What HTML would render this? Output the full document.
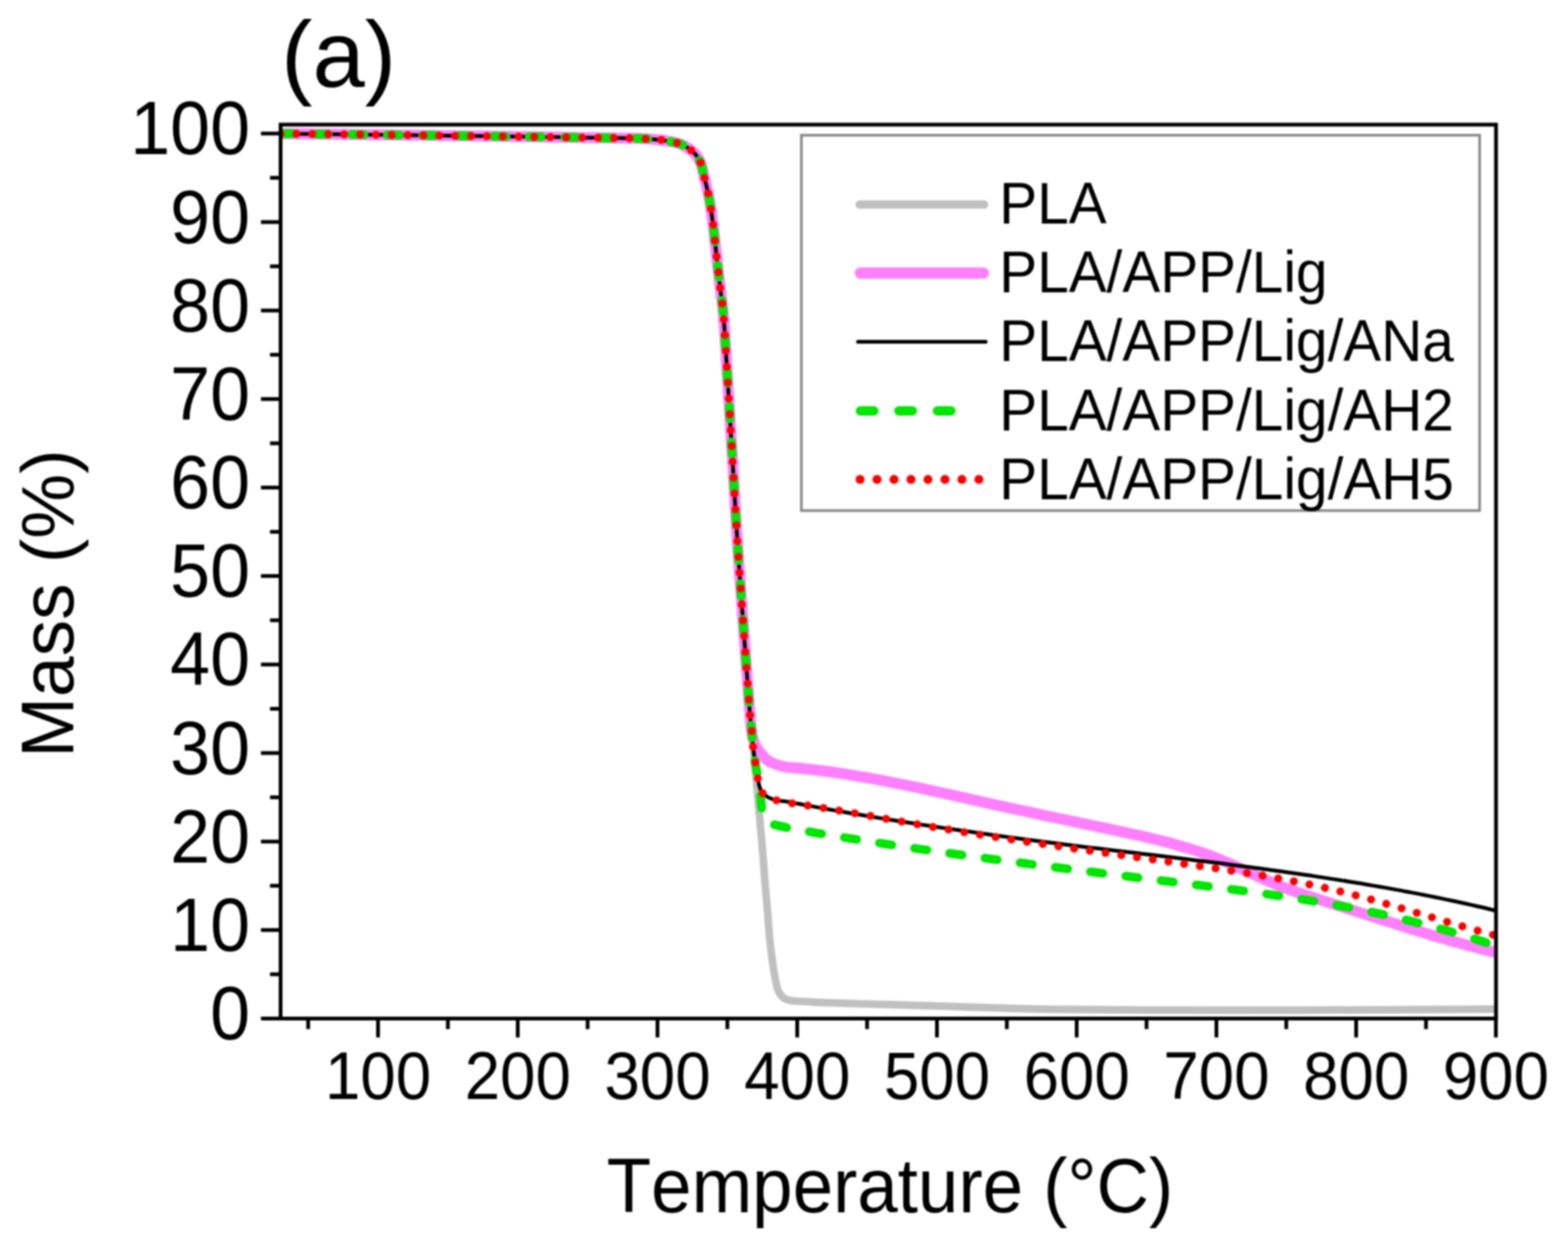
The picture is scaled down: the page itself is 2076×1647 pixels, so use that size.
<!DOCTYPE html>
<html><head><meta charset="utf-8"><title>TGA curves</title>
<style>html,body{margin:0;padding:0;background:#fff;overflow:hidden}svg{display:block}#w{filter:blur(1px)}text{font-family:"Liberation Sans",Arial,sans-serif;fill:#000;font-kerning:none}</style></head><body><div id="w">
<svg width="2076" height="1647" viewBox="0 0 2076 1647">
<rect width="2076" height="1647" fill="#fff"/>
<defs><clipPath id="pc"><rect x="371.5" y="165.0" width="1609.2" height="1183.5"/></clipPath></defs>
<g clip-path="url(#pc)" fill="none" stroke-linejoin="round">
<path d="M371.5,176.9 C392.9,177.2 461.9,177.9 500.0,178.4 C538.1,178.9 566.7,179.2 600.0,179.7 C633.3,180.1 666.7,180.6 700.0,181.1 C733.3,181.6 776.7,182.2 800.0,182.5 C823.3,182.8 828.1,182.7 840.0,183.1 C851.9,183.5 864.0,184.3 871.3,184.9 C878.6,185.5 878.6,185.8 883.7,186.8 C888.8,187.8 896.1,188.6 901.9,191.1 C907.7,193.6 914.5,198.1 918.7,202.1 C923.0,206.1 925.1,209.7 927.4,215.2 C929.7,220.7 930.7,227.5 932.5,235.0 C934.3,242.5 936.5,250.0 938.4,260.0 C940.3,270.0 942.0,280.9 943.8,295.0 C945.6,309.1 947.6,329.5 949.3,344.5 C951.0,359.5 952.5,372.4 954.0,385.0 C955.5,397.6 956.6,401.1 958.1,420.3 C959.6,439.5 961.3,470.1 963.2,500.0 C965.1,530.0 967.1,563.3 969.3,600.0 C971.5,636.7 973.9,680.1 976.5,720.0 C979.1,759.9 982.3,802.8 985.0,839.5 C987.7,876.2 990.8,919.1 992.5,940.0 C994.2,960.9 994.2,956.7 995.0,965.0 C995.8,973.3 996.5,979.2 997.5,990.0 C998.5,1000.8 999.7,1015.0 1001.0,1030.0 C1002.3,1045.0 1004.1,1064.2 1005.5,1080.0 C1006.9,1095.8 1008.2,1110.0 1009.5,1125.0 C1010.8,1140.0 1012.0,1157.5 1013.0,1170.0 C1014.0,1182.5 1014.5,1187.2 1015.6,1200.0 C1016.7,1212.8 1018.0,1233.1 1019.5,1247.0 C1021.0,1260.9 1022.8,1273.8 1024.3,1283.6 C1025.8,1293.4 1027.1,1300.4 1028.6,1306.0 C1030.1,1311.6 1030.9,1314.0 1033.5,1317.0 C1036.1,1320.0 1036.8,1322.5 1044.1,1324.1 C1051.3,1325.7 1061.0,1325.9 1077.0,1326.7 C1093.0,1327.5 1109.8,1327.9 1140.4,1328.9 C1171.0,1329.9 1220.7,1331.3 1260.8,1332.5 C1300.9,1333.7 1338.1,1335.3 1381.3,1336.1 C1424.5,1336.9 1466.9,1337.1 1520.0,1337.3 C1573.1,1337.5 1623.2,1337.7 1700.0,1337.5 C1776.8,1337.3 1933.9,1336.2 1980.7,1336.0" stroke="#c0c0c0" stroke-width="10" stroke-linecap="round"/>
<path d="M371.5,176.9 C392.9,177.2 461.9,177.9 500.0,178.4 C538.1,178.9 566.7,179.2 600.0,179.7 C633.3,180.1 666.7,180.6 700.0,181.1 C733.3,181.6 776.7,182.2 800.0,182.5 C823.3,182.8 828.1,182.7 840.0,183.1 C851.9,183.5 864.0,184.3 871.3,184.9 C878.6,185.5 878.6,185.8 883.7,186.8 C888.8,187.8 896.1,188.6 901.9,191.1 C907.7,193.6 914.5,198.1 918.7,202.1 C923.0,206.1 925.1,209.7 927.4,215.2 C929.7,220.7 930.7,227.5 932.5,235.0 C934.3,242.5 936.5,250.0 938.4,260.0 C940.3,270.0 942.0,280.9 943.8,295.0 C945.6,309.1 947.6,329.5 949.3,344.5 C951.0,359.5 952.5,372.4 954.0,385.0 C955.5,397.6 956.6,401.1 958.1,420.3 C959.6,439.5 961.3,470.1 963.2,500.0 C965.1,530.0 967.1,563.3 969.3,600.0 C971.5,636.7 973.9,680.1 976.5,720.0 C979.1,759.9 982.3,802.8 985.0,839.5 C987.7,876.2 990.8,918.6 992.5,940.0 C994.2,961.4 994.0,960.8 995.0,968.0 C996.0,975.2 997.2,979.1 998.5,983.0 C999.8,986.9 1001.4,989.0 1003.0,991.5 C1004.6,994.0 1006.4,996.0 1008.0,998.0 C1009.6,1000.0 1010.8,1001.9 1012.5,1003.5 C1014.2,1005.1 1016.0,1006.5 1018.0,1007.8 C1020.0,1009.0 1020.9,1009.7 1024.6,1011.0 C1028.3,1012.3 1034.7,1014.4 1040.0,1015.4 C1045.3,1016.3 1050.8,1016.3 1056.2,1016.8 C1061.6,1017.3 1067.0,1017.9 1072.4,1018.5 C1077.8,1019.1 1083.3,1019.8 1088.7,1020.5 C1094.1,1021.2 1099.5,1021.9 1104.9,1022.7 C1110.3,1023.5 1115.7,1024.3 1121.1,1025.1 C1126.5,1026.0 1131.9,1026.9 1137.3,1027.8 C1142.7,1028.7 1148.1,1029.7 1153.5,1030.6 C1158.9,1031.6 1164.3,1032.6 1169.8,1033.7 C1175.2,1034.7 1180.6,1035.8 1186.0,1036.8 C1191.4,1037.9 1196.8,1039.0 1202.2,1040.1 C1207.6,1041.3 1213.0,1042.4 1218.4,1043.5 C1223.8,1044.7 1229.2,1045.9 1234.6,1047.0 C1240.0,1048.2 1245.4,1049.4 1250.8,1050.6 C1256.3,1051.8 1261.7,1053.0 1267.1,1054.2 C1272.5,1055.4 1277.9,1056.6 1283.3,1057.8 C1288.7,1059.0 1294.1,1060.3 1299.5,1061.5 C1304.9,1062.7 1310.3,1063.9 1315.7,1065.1 C1321.1,1066.3 1326.5,1067.5 1331.9,1068.7 C1337.3,1069.9 1342.8,1071.0 1348.2,1072.2 C1353.6,1073.4 1359.0,1074.5 1364.4,1075.7 C1369.8,1076.8 1375.2,1078.0 1380.6,1079.1 C1386.0,1080.3 1391.4,1081.4 1396.8,1082.5 C1402.2,1083.7 1407.6,1084.8 1413.0,1085.9 C1418.4,1087.1 1423.8,1088.2 1429.3,1089.3 C1434.7,1090.5 1440.1,1091.6 1445.5,1092.8 C1450.9,1093.9 1456.3,1095.0 1461.7,1096.2 C1467.1,1097.3 1472.5,1098.5 1477.9,1099.6 C1483.3,1100.8 1488.7,1102.0 1494.1,1103.2 C1499.5,1104.3 1504.9,1105.5 1510.3,1106.7 C1515.8,1108.0 1521.2,1109.2 1526.6,1110.5 C1532.0,1111.8 1537.4,1113.1 1542.8,1114.5 C1548.2,1115.9 1553.6,1117.4 1559.0,1118.9 C1564.4,1120.4 1569.8,1122.0 1575.2,1123.7 C1580.6,1125.4 1586.0,1127.2 1591.4,1129.0 C1596.9,1130.9 1602.3,1132.8 1607.7,1134.9 C1613.1,1137.0 1618.5,1139.2 1623.9,1141.5 C1629.3,1143.8 1634.7,1146.3 1640.1,1148.7 C1645.5,1151.2 1650.9,1153.8 1656.3,1156.3 C1661.7,1158.8 1667.1,1161.3 1672.5,1163.7 C1677.9,1166.1 1683.4,1168.5 1688.8,1170.7 C1694.2,1173.0 1699.6,1175.0 1705.0,1177.0 C1710.4,1179.0 1715.8,1180.9 1721.2,1182.7 C1726.6,1184.5 1732.0,1186.3 1737.4,1188.0 C1742.8,1189.8 1748.2,1191.4 1753.6,1193.2 C1759.0,1194.9 1764.4,1196.6 1769.9,1198.3 C1775.3,1200.1 1780.7,1201.8 1786.1,1203.6 C1791.5,1205.3 1796.9,1207.1 1802.3,1208.8 C1807.7,1210.5 1813.1,1212.3 1818.5,1214.0 C1823.9,1215.8 1829.3,1217.5 1834.7,1219.2 C1840.1,1221.0 1845.5,1222.7 1850.9,1224.4 C1856.4,1226.1 1861.8,1227.8 1867.2,1229.5 C1872.6,1231.1 1878.0,1232.8 1883.4,1234.4 C1888.8,1236.1 1894.2,1237.7 1899.6,1239.3 C1905.0,1240.9 1910.4,1242.5 1915.8,1244.0 C1921.2,1245.6 1926.6,1247.1 1932.0,1248.6 C1937.4,1250.1 1942.9,1251.6 1948.3,1253.0 C1953.7,1254.4 1959.1,1255.8 1964.5,1257.1 C1969.9,1258.5 1978.0,1260.4 1980.7,1261.1" stroke="#ff80ff" stroke-width="14.5" stroke-linecap="round"/>
<path d="M371.5,176.9 C392.9,177.2 461.9,177.9 500.0,178.4 C538.1,178.9 566.7,179.2 600.0,179.7 C633.3,180.1 666.7,180.6 700.0,181.1 C733.3,181.6 776.7,182.2 800.0,182.5 C823.3,182.8 828.1,182.7 840.0,183.1 C851.9,183.5 864.0,184.3 871.3,184.9 C878.6,185.5 878.6,185.8 883.7,186.8 C888.8,187.8 896.1,188.6 901.9,191.1 C907.7,193.6 914.5,198.1 918.7,202.1 C923.0,206.1 925.1,209.7 927.4,215.2 C929.7,220.7 930.7,227.5 932.5,235.0 C934.3,242.5 936.5,250.0 938.4,260.0 C940.3,270.0 942.0,280.9 943.8,295.0 C945.6,309.1 947.6,329.5 949.3,344.5 C951.0,359.5 952.5,372.4 954.0,385.0 C955.5,397.6 956.6,401.1 958.1,420.3 C959.6,439.5 961.3,470.1 963.2,500.0 C965.1,530.0 967.1,563.3 969.3,600.0 C971.5,636.7 973.9,680.1 976.5,720.0 C979.1,759.9 982.3,802.8 985.0,839.5 C987.7,876.2 990.8,919.1 992.5,940.0 C994.2,960.9 994.2,956.9 995.0,965.0 C995.8,973.1 996.2,981.1 997.0,988.6 C997.8,996.1 999.0,1003.4 1000.0,1010.0 C1001.0,1016.6 1002.1,1023.0 1003.0,1028.0 C1003.9,1033.0 1004.3,1036.6 1005.2,1040.0 C1006.1,1043.4 1007.0,1046.2 1008.5,1048.5 C1010.0,1050.8 1012.1,1052.1 1014.0,1053.5 C1015.9,1054.9 1017.3,1055.9 1020.0,1057.0 C1022.7,1058.1 1026.7,1059.3 1030.0,1060.0 C1033.3,1060.7 1035.6,1060.3 1040.0,1061.0 C1044.4,1061.6 1050.8,1063.0 1056.2,1064.0 C1061.6,1065.1 1067.0,1066.1 1072.4,1067.1 C1077.8,1068.0 1083.3,1069.0 1088.7,1070.0 C1094.1,1071.0 1099.5,1071.9 1104.9,1072.9 C1110.3,1073.8 1115.7,1074.8 1121.1,1075.7 C1126.5,1076.7 1131.9,1077.6 1137.3,1078.5 C1142.7,1079.4 1148.1,1080.3 1153.5,1081.2 C1158.9,1082.1 1164.3,1083.0 1169.8,1083.9 C1175.2,1084.8 1180.6,1085.6 1186.0,1086.5 C1191.4,1087.4 1196.8,1088.2 1202.2,1089.0 C1207.6,1089.9 1213.0,1090.7 1218.4,1091.6 C1223.8,1092.4 1229.2,1093.2 1234.6,1094.0 C1240.0,1094.8 1245.4,1095.6 1250.8,1096.4 C1256.3,1097.2 1261.7,1098.0 1267.1,1098.8 C1272.5,1099.6 1277.9,1100.4 1283.3,1101.1 C1288.7,1101.9 1294.1,1102.7 1299.5,1103.4 C1304.9,1104.2 1310.3,1104.9 1315.7,1105.7 C1321.1,1106.4 1326.5,1107.1 1331.9,1107.9 C1337.3,1108.6 1342.8,1109.3 1348.2,1110.0 C1353.6,1110.8 1359.0,1111.5 1364.4,1112.2 C1369.8,1112.9 1375.2,1113.6 1380.6,1114.3 C1386.0,1115.0 1391.4,1115.7 1396.8,1116.3 C1402.2,1117.0 1407.6,1117.7 1413.0,1118.4 C1418.4,1119.0 1423.8,1119.7 1429.3,1120.4 C1434.7,1121.1 1440.1,1121.7 1445.5,1122.4 C1450.9,1123.0 1456.3,1123.7 1461.7,1124.3 C1467.1,1125.0 1472.5,1125.7 1477.9,1126.3 C1483.3,1127.0 1488.7,1127.6 1494.1,1128.3 C1499.5,1128.9 1504.9,1129.5 1510.3,1130.2 C1515.8,1130.8 1521.2,1131.5 1526.6,1132.1 C1532.0,1132.8 1537.4,1133.4 1542.8,1134.1 C1548.2,1134.8 1553.6,1135.4 1559.0,1136.1 C1564.4,1136.7 1569.8,1137.4 1575.2,1138.0 C1580.6,1138.7 1586.0,1139.4 1591.4,1140.0 C1596.9,1140.7 1602.3,1141.4 1607.7,1142.1 C1613.1,1142.7 1618.5,1143.4 1623.9,1144.1 C1629.3,1144.8 1634.7,1145.5 1640.1,1146.2 C1645.5,1146.9 1650.9,1147.6 1656.3,1148.3 C1661.7,1149.0 1667.1,1149.7 1672.5,1150.5 C1677.9,1151.2 1683.4,1151.9 1688.8,1152.7 C1694.2,1153.4 1699.6,1154.2 1705.0,1154.9 C1710.4,1155.7 1715.8,1156.5 1721.2,1157.3 C1726.6,1158.0 1732.0,1158.8 1737.4,1159.6 C1742.8,1160.4 1748.2,1161.2 1753.6,1162.1 C1759.0,1162.9 1764.4,1163.7 1769.9,1164.6 C1775.3,1165.4 1780.7,1166.3 1786.1,1167.2 C1791.5,1168.0 1796.9,1168.9 1802.3,1169.8 C1807.7,1170.7 1813.1,1171.7 1818.5,1172.6 C1823.9,1173.5 1829.3,1174.5 1834.7,1175.4 C1840.1,1176.4 1845.5,1177.4 1850.9,1178.4 C1856.4,1179.3 1861.8,1180.4 1867.2,1181.4 C1872.6,1182.4 1878.0,1183.4 1883.4,1184.5 C1888.8,1185.6 1894.2,1186.6 1899.6,1187.7 C1905.0,1188.8 1910.4,1190.0 1915.8,1191.1 C1921.2,1192.2 1926.6,1193.4 1932.0,1194.5 C1937.4,1195.7 1942.9,1196.9 1948.3,1198.1 C1953.7,1199.3 1959.1,1200.6 1964.5,1201.8 C1969.9,1203.1 1978.0,1205.0 1980.7,1205.7" stroke="#000" stroke-width="5" stroke-linecap="round"/>
<path d="M371.5,176.9 C392.9,177.2 461.9,177.9 500.0,178.4 C538.1,178.9 566.7,179.2 600.0,179.7 C633.3,180.1 666.7,180.6 700.0,181.1 C733.3,181.6 776.7,182.2 800.0,182.5 C823.3,182.8 828.1,182.7 840.0,183.1 C851.9,183.5 864.0,184.3 871.3,184.9 C878.6,185.5 878.6,185.8 883.7,186.8 C888.8,187.8 896.1,188.6 901.9,191.1 C907.7,193.6 914.5,198.1 918.7,202.1 C923.0,206.1 925.1,209.7 927.4,215.2 C929.7,220.7 930.7,227.5 932.5,235.0 C934.3,242.5 936.5,250.0 938.4,260.0 C940.3,270.0 942.0,280.9 943.8,295.0 C945.6,309.1 947.6,329.5 949.3,344.5 C951.0,359.5 952.5,372.4 954.0,385.0 C955.5,397.6 956.6,401.1 958.1,420.3 C959.6,439.5 961.3,470.1 963.2,500.0 C965.1,530.0 967.1,563.3 969.3,600.0 C971.5,636.7 973.9,680.1 976.5,720.0 C979.1,759.9 982.3,802.8 985.0,839.5 C987.7,876.2 990.8,919.1 992.5,940.0 C994.2,960.9 994.2,956.9 995.0,965.0 C995.8,973.1 996.2,981.1 997.0,988.6 C997.8,996.1 998.9,1003.1 1000.0,1010.0 C1001.1,1016.9 1002.4,1023.3 1003.5,1030.0 C1004.6,1036.7 1005.8,1044.2 1006.5,1050.0 C1007.2,1055.8 1007.5,1060.7 1008.0,1065.0 C1008.5,1069.3 1008.8,1072.8 1009.5,1076.0 C1010.2,1079.2 1011.1,1081.8 1012.5,1084.0 C1013.9,1086.2 1016.0,1087.7 1018.0,1089.0 C1020.0,1090.3 1019.1,1090.2 1024.3,1091.6 C1029.5,1093.0 1042.2,1095.8 1049.0,1097.2 C1055.8,1098.6 1059.7,1099.1 1065.1,1100.0 C1070.4,1100.9 1075.8,1101.9 1081.1,1102.8 C1086.5,1103.7 1091.8,1104.6 1097.2,1105.4 C1102.5,1106.3 1107.9,1107.2 1113.3,1108.1 C1118.6,1108.9 1124.0,1109.8 1129.3,1110.6 C1134.7,1111.5 1140.0,1112.3 1145.4,1113.2 C1150.7,1114.0 1156.1,1114.9 1161.4,1115.7 C1166.8,1116.5 1172.2,1117.3 1177.5,1118.1 C1182.9,1118.9 1188.2,1119.7 1193.6,1120.5 C1198.9,1121.3 1204.3,1122.1 1209.6,1122.9 C1215.0,1123.7 1220.3,1124.5 1225.7,1125.2 C1231.1,1126.0 1236.4,1126.8 1241.8,1127.5 C1247.1,1128.3 1252.5,1129.0 1257.8,1129.8 C1263.2,1130.5 1268.5,1131.3 1273.9,1132.0 C1279.2,1132.8 1284.6,1133.5 1290.0,1134.2 C1295.3,1134.9 1300.7,1135.7 1306.0,1136.4 C1311.4,1137.1 1316.7,1137.8 1322.1,1138.5 C1327.4,1139.2 1332.8,1140.0 1338.1,1140.7 C1343.5,1141.4 1348.9,1142.1 1354.2,1142.8 C1359.6,1143.5 1364.9,1144.2 1370.3,1144.8 C1375.6,1145.5 1381.0,1146.2 1386.3,1146.9 C1391.7,1147.6 1397.0,1148.3 1402.4,1149.0 C1407.8,1149.6 1413.1,1150.3 1418.5,1151.0 C1423.8,1151.7 1429.2,1152.3 1434.5,1153.0 C1439.9,1153.7 1445.2,1154.3 1450.6,1155.0 C1455.9,1155.7 1461.3,1156.3 1466.7,1157.0 C1472.0,1157.7 1477.4,1158.3 1482.7,1159.0 C1488.1,1159.7 1493.4,1160.3 1498.8,1161.0 C1504.1,1161.6 1509.5,1162.3 1514.8,1163.0 C1520.2,1163.6 1525.6,1164.3 1530.9,1164.9 C1536.3,1165.6 1541.6,1166.3 1547.0,1166.9 C1552.3,1167.6 1557.7,1168.3 1563.0,1168.9 C1568.4,1169.6 1573.8,1170.2 1579.1,1170.9 C1584.5,1171.6 1589.8,1172.2 1595.2,1172.9 C1600.5,1173.6 1605.9,1174.2 1611.2,1174.9 C1616.6,1175.6 1621.9,1176.3 1627.3,1177.0 C1632.7,1177.7 1638.0,1178.4 1643.4,1179.1 C1648.7,1179.8 1654.1,1180.5 1659.4,1181.2 C1664.8,1181.9 1670.1,1182.7 1675.5,1183.4 C1680.8,1184.2 1686.2,1185.0 1691.6,1185.7 C1696.9,1186.5 1702.3,1187.3 1707.6,1188.1 C1713.0,1188.9 1718.3,1189.8 1723.7,1190.6 C1729.0,1191.5 1734.4,1192.3 1739.7,1193.2 C1745.1,1194.1 1750.5,1195.0 1755.8,1196.0 C1761.2,1196.9 1766.5,1197.8 1771.9,1198.8 C1777.2,1199.8 1782.6,1200.8 1787.9,1201.8 C1793.3,1202.9 1798.6,1203.9 1804.0,1205.0 C1809.4,1206.1 1814.7,1207.2 1820.1,1208.4 C1825.4,1209.5 1830.8,1210.7 1836.1,1211.9 C1841.5,1213.1 1846.8,1214.3 1852.2,1215.6 C1857.5,1216.9 1862.9,1218.2 1868.3,1219.5 C1873.6,1220.8 1879.0,1222.2 1884.3,1223.6 C1889.7,1225.0 1895.0,1226.4 1900.4,1227.8 C1905.7,1229.3 1911.1,1230.8 1916.4,1232.3 C1921.8,1233.8 1927.2,1235.4 1932.5,1237.0 C1937.9,1238.6 1943.2,1240.2 1948.6,1241.9 C1953.9,1243.6 1959.3,1245.3 1964.6,1247.0 C1970.0,1248.8 1978.0,1251.5 1980.7,1252.4" stroke="#00e600" stroke-width="11.5" stroke-linecap="round" stroke-dasharray="16.5 30.5"/>
<path d="M371.5,176.9 C392.9,177.2 461.9,177.9 500.0,178.4 C538.1,178.9 566.7,179.2 600.0,179.7 C633.3,180.1 666.7,180.6 700.0,181.1 C733.3,181.6 776.7,182.2 800.0,182.5 C823.3,182.8 828.1,182.7 840.0,183.1 C851.9,183.5 864.0,184.3 871.3,184.9 C878.6,185.5 878.6,185.8 883.7,186.8 C888.8,187.8 896.1,188.6 901.9,191.1 C907.7,193.6 914.5,198.1 918.7,202.1 C923.0,206.1 925.1,209.7 927.4,215.2 C929.7,220.7 930.7,227.5 932.5,235.0 C934.3,242.5 936.5,250.0 938.4,260.0 C940.3,270.0 942.0,280.9 943.8,295.0 C945.6,309.1 947.6,329.5 949.3,344.5 C951.0,359.5 952.5,372.4 954.0,385.0 C955.5,397.6 956.6,401.1 958.1,420.3 C959.6,439.5 961.3,470.1 963.2,500.0 C965.1,530.0 967.1,563.3 969.3,600.0 C971.5,636.7 973.9,680.1 976.5,720.0 C979.1,759.9 982.3,802.8 985.0,839.5 C987.7,876.2 990.8,919.1 992.5,940.0 C994.2,960.9 994.2,956.9 995.0,965.0 C995.8,973.1 996.2,981.1 997.0,988.6 C997.8,996.1 999.0,1003.4 1000.0,1010.0 C1001.0,1016.6 1002.1,1023.0 1003.0,1028.0 C1003.9,1033.0 1004.3,1036.6 1005.2,1040.0 C1006.1,1043.4 1007.0,1046.2 1008.5,1048.5 C1010.0,1050.8 1012.1,1052.1 1014.0,1053.5 C1015.9,1054.9 1017.3,1055.9 1020.0,1057.0 C1022.7,1058.1 1026.7,1059.1 1030.0,1060.0 C1033.3,1060.9 1035.6,1061.5 1040.0,1062.3 C1044.4,1063.0 1050.8,1063.8 1056.2,1064.5 C1061.6,1065.3 1067.0,1066.1 1072.4,1066.9 C1077.8,1067.8 1083.3,1068.6 1088.7,1069.5 C1094.1,1070.3 1099.5,1071.2 1104.9,1072.1 C1110.3,1073.0 1115.7,1073.9 1121.1,1074.9 C1126.5,1075.8 1131.9,1076.7 1137.3,1077.7 C1142.7,1078.6 1148.1,1079.6 1153.5,1080.5 C1158.9,1081.5 1164.3,1082.5 1169.8,1083.4 C1175.2,1084.4 1180.6,1085.4 1186.0,1086.3 C1191.4,1087.3 1196.8,1088.2 1202.2,1089.2 C1207.6,1090.2 1213.0,1091.1 1218.4,1092.0 C1223.8,1093.0 1229.2,1093.9 1234.6,1094.8 C1240.0,1095.7 1245.4,1096.6 1250.8,1097.5 C1256.3,1098.4 1261.7,1099.3 1267.1,1100.2 C1272.5,1101.1 1277.9,1101.9 1283.3,1102.8 C1288.7,1103.7 1294.1,1104.5 1299.5,1105.4 C1304.9,1106.2 1310.3,1107.0 1315.7,1107.9 C1321.1,1108.7 1326.5,1109.5 1331.9,1110.3 C1337.3,1111.1 1342.8,1112.0 1348.2,1112.8 C1353.6,1113.6 1359.0,1114.4 1364.4,1115.2 C1369.8,1115.9 1375.2,1116.7 1380.6,1117.5 C1386.0,1118.3 1391.4,1119.1 1396.8,1119.9 C1402.2,1120.6 1407.6,1121.4 1413.0,1122.2 C1418.4,1122.9 1423.8,1123.7 1429.3,1124.5 C1434.7,1125.2 1440.1,1126.0 1445.5,1126.7 C1450.9,1127.5 1456.3,1128.2 1461.7,1129.0 C1467.1,1129.7 1472.5,1130.5 1477.9,1131.3 C1483.3,1132.0 1488.7,1132.7 1494.1,1133.5 C1499.5,1134.2 1504.9,1135.0 1510.3,1135.7 C1515.8,1136.5 1521.2,1137.2 1526.6,1138.0 C1532.0,1138.7 1537.4,1139.5 1542.8,1140.2 C1548.2,1141.0 1553.6,1141.8 1559.0,1142.5 C1564.4,1143.3 1569.8,1144.0 1575.2,1144.8 C1580.6,1145.5 1586.0,1146.3 1591.4,1147.1 C1596.9,1147.9 1602.3,1148.6 1607.7,1149.4 C1613.1,1150.2 1618.5,1151.0 1623.9,1151.8 C1629.3,1152.6 1634.7,1153.4 1640.1,1154.3 C1645.5,1155.1 1650.9,1156.0 1656.3,1156.8 C1661.7,1157.7 1667.1,1158.6 1672.5,1159.5 C1677.9,1160.4 1683.4,1161.4 1688.8,1162.3 C1694.2,1163.3 1699.6,1164.3 1705.0,1165.3 C1710.4,1166.3 1715.8,1167.4 1721.2,1168.4 C1726.6,1169.5 1732.0,1170.6 1737.4,1171.8 C1742.8,1172.9 1748.2,1174.1 1753.6,1175.3 C1759.0,1176.6 1764.4,1177.8 1769.9,1179.1 C1775.3,1180.4 1780.7,1181.8 1786.1,1183.1 C1791.5,1184.5 1796.9,1185.9 1802.3,1187.4 C1807.7,1188.8 1813.1,1190.3 1818.5,1191.8 C1823.9,1193.3 1829.3,1194.9 1834.7,1196.4 C1840.1,1198.0 1845.5,1199.6 1850.9,1201.1 C1856.4,1202.7 1861.8,1204.3 1867.2,1205.9 C1872.6,1207.5 1878.0,1209.1 1883.4,1210.8 C1888.8,1212.4 1894.2,1214.0 1899.6,1215.6 C1905.0,1217.2 1910.4,1218.8 1915.8,1220.4 C1921.2,1222.0 1926.6,1223.6 1932.0,1225.2 C1937.4,1226.8 1942.9,1228.4 1948.3,1229.9 C1953.7,1231.4 1959.1,1233.0 1964.5,1234.4 C1969.9,1235.9 1978.0,1238.1 1980.7,1238.8" stroke="#ff0000" stroke-width="10.6" stroke-linecap="round" stroke-dasharray="0.01 21"/>
</g>
<rect x="1061" y="179" width="898" height="497" fill="none" stroke="#858585" stroke-width="3.4"/>
<line x1="1138" y1="270.8" x2="1303" y2="270.8" stroke="#c0c0c0" stroke-width="11" stroke-linecap="round"/>
<line x1="1139" y1="361.5" x2="1302" y2="361.5" stroke="#ff80ff" stroke-width="15" stroke-linecap="round"/>
<line x1="1136" y1="452.5" x2="1305" y2="452.5" stroke="#000" stroke-width="5" stroke-linecap="round"/>
<line x1="1139.3" y1="544.0" x2="1259.3" y2="544.0" stroke="#00e600" stroke-width="12.5" stroke-linecap="round" stroke-dasharray="17.5 33.5"/>
<line x1="1138.7" y1="634.8" x2="1300" y2="634.8" stroke="#ff0000" stroke-width="12" stroke-linecap="round" stroke-dasharray="0.01 22.47"/>
<text x="1323" y="0" font-size="75.2" transform="translate(0 295.7) scale(1 1.026)">PLA</text>
<text x="1323" y="0" font-size="75.2" transform="translate(0 387.0) scale(1 1.026)">PLA/APP/Lig</text>
<text x="1323" y="0" font-size="75.2" transform="translate(0 478.3) scale(1 1.026)">PLA/APP/Lig/ANa</text>
<text x="1323" y="0" font-size="75.2" transform="translate(0 569.6) scale(1 1.026)">PLA/APP/Lig/AH2</text>
<text x="1323" y="0" font-size="75.2" transform="translate(0 660.9) scale(1 1.026)">PLA/APP/Lig/AH5</text>
<g stroke="#000" stroke-width="5" fill="none">
<rect x="371.5" y="165.0" width="1609.2" height="1183.5"/>
<line x1="345.5" y1="1348.5" x2="371.5" y2="1348.5"/>
<line x1="357.5" y1="1289.9" x2="371.5" y2="1289.9"/>
<line x1="345.5" y1="1231.3" x2="371.5" y2="1231.3"/>
<line x1="357.5" y1="1172.7" x2="371.5" y2="1172.7"/>
<line x1="345.5" y1="1114.2" x2="371.5" y2="1114.2"/>
<line x1="357.5" y1="1055.6" x2="371.5" y2="1055.6"/>
<line x1="345.5" y1="997.0" x2="371.5" y2="997.0"/>
<line x1="357.5" y1="938.4" x2="371.5" y2="938.4"/>
<line x1="345.5" y1="879.8" x2="371.5" y2="879.8"/>
<line x1="357.5" y1="821.2" x2="371.5" y2="821.2"/>
<line x1="345.5" y1="762.6" x2="371.5" y2="762.6"/>
<line x1="357.5" y1="704.1" x2="371.5" y2="704.1"/>
<line x1="345.5" y1="645.5" x2="371.5" y2="645.5"/>
<line x1="357.5" y1="586.9" x2="371.5" y2="586.9"/>
<line x1="345.5" y1="528.3" x2="371.5" y2="528.3"/>
<line x1="357.5" y1="469.7" x2="371.5" y2="469.7"/>
<line x1="345.5" y1="411.1" x2="371.5" y2="411.1"/>
<line x1="357.5" y1="352.6" x2="371.5" y2="352.6"/>
<line x1="345.5" y1="294.0" x2="371.5" y2="294.0"/>
<line x1="357.5" y1="235.4" x2="371.5" y2="235.4"/>
<line x1="345.5" y1="176.8" x2="371.5" y2="176.8"/>
<line x1="408.0" y1="1348.5" x2="408.0" y2="1362.5"/>
<line x1="500.5" y1="1348.5" x2="500.5" y2="1373.5"/>
<line x1="593.0" y1="1348.5" x2="593.0" y2="1362.5"/>
<line x1="685.5" y1="1348.5" x2="685.5" y2="1373.5"/>
<line x1="778.0" y1="1348.5" x2="778.0" y2="1362.5"/>
<line x1="870.5" y1="1348.5" x2="870.5" y2="1373.5"/>
<line x1="963.0" y1="1348.5" x2="963.0" y2="1362.5"/>
<line x1="1055.5" y1="1348.5" x2="1055.5" y2="1373.5"/>
<line x1="1148.0" y1="1348.5" x2="1148.0" y2="1362.5"/>
<line x1="1240.5" y1="1348.5" x2="1240.5" y2="1373.5"/>
<line x1="1333.0" y1="1348.5" x2="1333.0" y2="1362.5"/>
<line x1="1425.5" y1="1348.5" x2="1425.5" y2="1373.5"/>
<line x1="1518.0" y1="1348.5" x2="1518.0" y2="1362.5"/>
<line x1="1610.5" y1="1348.5" x2="1610.5" y2="1373.5"/>
<line x1="1703.0" y1="1348.5" x2="1703.0" y2="1362.5"/>
<line x1="1795.5" y1="1348.5" x2="1795.5" y2="1373.5"/>
<line x1="1888.0" y1="1348.5" x2="1888.0" y2="1362.5"/>
<line x1="1980.5" y1="1348.5" x2="1980.5" y2="1373.5"/>
</g>
<text x="331" y="0" font-size="95.0" text-anchor="end" transform="translate(0 1376.1) scale(1 1.060)">0</text>
<text x="331" y="0" font-size="95.0" text-anchor="end" transform="translate(0 1258.9) scale(1 1.060)">10</text>
<text x="331" y="0" font-size="95.0" text-anchor="end" transform="translate(0 1141.8) scale(1 1.060)">20</text>
<text x="331" y="0" font-size="95.0" text-anchor="end" transform="translate(0 1024.6) scale(1 1.060)">30</text>
<text x="331" y="0" font-size="95.0" text-anchor="end" transform="translate(0 907.4) scale(1 1.060)">40</text>
<text x="331" y="0" font-size="95.0" text-anchor="end" transform="translate(0 790.2) scale(1 1.060)">50</text>
<text x="331" y="0" font-size="95.0" text-anchor="end" transform="translate(0 673.1) scale(1 1.060)">60</text>
<text x="331" y="0" font-size="95.0" text-anchor="end" transform="translate(0 555.9) scale(1 1.060)">70</text>
<text x="331" y="0" font-size="95.0" text-anchor="end" transform="translate(0 438.7) scale(1 1.060)">80</text>
<text x="331" y="0" font-size="95.0" text-anchor="end" transform="translate(0 321.6) scale(1 1.060)">90</text>
<text x="331" y="0" font-size="95.0" text-anchor="end" transform="translate(0 204.4) scale(1 1.060)">100</text>
<text x="500.5" y="0" font-size="84.3" text-anchor="middle" transform="translate(0 1455.2) scale(1 1.060)">100</text>
<text x="685.5" y="0" font-size="84.3" text-anchor="middle" transform="translate(0 1455.2) scale(1 1.060)">200</text>
<text x="870.5" y="0" font-size="84.3" text-anchor="middle" transform="translate(0 1455.2) scale(1 1.060)">300</text>
<text x="1055.5" y="0" font-size="84.3" text-anchor="middle" transform="translate(0 1455.2) scale(1 1.060)">400</text>
<text x="1240.5" y="0" font-size="84.3" text-anchor="middle" transform="translate(0 1455.2) scale(1 1.060)">500</text>
<text x="1425.5" y="0" font-size="84.3" text-anchor="middle" transform="translate(0 1455.2) scale(1 1.060)">600</text>
<text x="1610.5" y="0" font-size="84.3" text-anchor="middle" transform="translate(0 1455.2) scale(1 1.060)">700</text>
<text x="1795.5" y="0" font-size="84.3" text-anchor="middle" transform="translate(0 1455.2) scale(1 1.060)">800</text>
<text x="1980.5" y="0" font-size="84.3" text-anchor="middle" transform="translate(0 1455.2) scale(1 1.060)">900</text>
<text x="805" y="0" font-size="96.3" transform="translate(-1.7 1605.3) scale(1 1.06)">Temperature (°C)</text>
<text x="0" y="0" font-size="96.7" transform="translate(96.5 995.4) rotate(-90) scale(1 1.022)" dx="-7.9">Mass (%)</text>
<text x="372.3" y="0" font-size="124.4" transform="translate(0 114.8)">(a)</text>
</svg></div></body></html>
